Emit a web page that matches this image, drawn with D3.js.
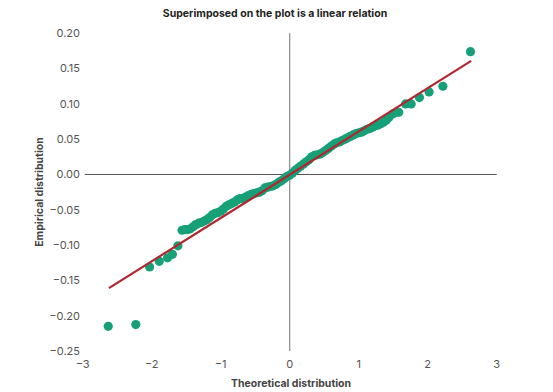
<!DOCTYPE html>
<html><head><meta charset="utf-8">
<script src="https://cdn.jsdelivr.net/npm/d3@7"></script>
<style>body{margin:0;background:#fff}svg{display:block}</style>
</head><body><svg id="c" width="553" height="392"></svg>
<script>
const title = "Superimposed on the plot is a linear relation";
const xTitle = "Theoretical distribution";
const yTitle = "Empirical distribution";
const xTicks = [-3,-2,-1,0,1,2,3];
const yTicks = [0.20,0.15,0.10,0.05,0.00,-0.05,-0.10,-0.15,-0.20,-0.25];
const theoretical = [-2.63,-2.23,-2.03,-1.89,-1.77,-1.70,-1.62,
 -1.56,-1.52,-1.48,-1.44,-1.40,-1.36,-1.32,-1.28,-1.24,-1.20,-1.16,-1.12,-1.08,-1.04,-1.00,-0.96,-0.92,-0.88,-0.84,-0.80,-0.76,-0.72,-0.68,-0.64,-0.60,-0.56,-0.52,-0.48,-0.44,-0.40,-0.36,-0.32,-0.28,-0.24,-0.20,-0.16,-0.12,-0.08,-0.04,0.00,0.04,0.08,0.12,0.16,0.20,0.24,0.28,0.32,0.36,0.40,0.44,0.48,0.52,0.56,0.60,0.64,0.68,0.72,0.76,0.80,0.84,0.88,0.92,0.96,1.00,1.04,1.08,1.12,1.16,1.20,1.24,1.28,1.32,1.36,1.40,1.44,
 1.50,1.58,1.68,1.76,1.88,2.02,2.22,2.62];
const empirical = [-0.215,-0.2125,-0.131,-0.123,-0.118,-0.113,-0.101,
 -0.079,-0.078,-0.078,-0.077,-0.074,-0.071,-0.069,-0.068,-0.066,-0.064,-0.061,-0.057,-0.055,-0.054,-0.052,-0.049,-0.045,-0.043,-0.041,-0.039,-0.036,-0.034,-0.034,-0.032,-0.030,-0.028,-0.027,-0.026,-0.025,-0.023,-0.019,-0.018,-0.017,-0.016,-0.014,-0.011,-0.009,-0.006,-0.003,-0.001,0.002,0.006,0.009,0.012,0.015,0.018,0.021,0.025,0.027,0.028,0.029,0.031,0.034,0.037,0.040,0.043,0.045,0.046,0.048,0.050,0.052,0.054,0.056,0.058,0.059,0.060,0.062,0.064,0.065,0.067,0.069,0.070,0.072,0.074,0.077,0.081,
 0.086,0.088,0.100,0.100,0.109,0.117,0.125,0.174];
const fitX = [-2.62, 2.63];
const fitY = [-0.161, 0.161];

const svg = d3.select("#c");
const x = d3.scaleLinear().domain([-3,3]).range([82.7,496.7]);
const y = d3.scaleLinear().domain([-0.25,0.20]).range([351,33.3]);
const font = "Inter, Roboto, 'DejaVu Sans', sans-serif";

// zero lines
svg.append("line").attr("x1",x(0)).attr("x2",x(0)).attr("y1",y(0.20)).attr("y2",y(-0.25))
  .attr("stroke","#8a8a8a").attr("stroke-width",1.2);
svg.append("line").attr("x1",x(-2.97)).attr("x2",x(3)).attr("y1",y(0)).attr("y2",y(0))
  .attr("stroke","#555").attr("stroke-width",1.2);

// tick labels
svg.append("g").selectAll("text").data(yTicks).join("text")
  .attr("x",80).attr("y",d=>y(d)).attr("dy","0.35em").attr("text-anchor","end")
  .attr("font-family",font).attr("font-size",11).attr("fill","#555")
  .text(d=>d3.format(".2f")(d).replace("-","\u2212"));
svg.append("g").selectAll("text").data(xTicks).join("text")
  .attr("x",d=>x(d)).attr("y",368).attr("text-anchor","middle")
  .attr("font-family",font).attr("font-size",11).attr("fill","#555")
  .text(d=>String(d).replace("-","\u2212"));

// points
svg.append("g").selectAll("circle").data(theoretical).join("circle")
  .attr("cx",d=>x(d)).attr("cy",(d,i)=>y(empirical[i])).attr("r",4.6)
  .attr("fill","#17a078");

// fit line
svg.append("line").attr("x1",x(fitX[0])).attr("y1",y(fitY[0]))
  .attr("x2",x(fitX[1])).attr("y2",y(fitY[1]))
  .attr("stroke","#b0282f").attr("stroke-width",2.2);

// titles
svg.append("text").attr("x",275).attr("y",17).attr("text-anchor","middle")
  .attr("font-family",font).attr("font-size",10.5).attr("font-weight","bold").attr("fill","#222")
  .text(title);
svg.append("text").attr("x",291).attr("y",387).attr("text-anchor","middle")
  .attr("font-family",font).attr("font-size",10.5).attr("font-weight","bold").attr("fill","#444")
  .text(xTitle);
svg.append("text").attr("transform","translate(43,192) rotate(-90)").attr("text-anchor","middle")
  .attr("font-family",font).attr("font-size",10.5).attr("font-weight","bold").attr("fill","#444")
  .text(yTitle);
</script></body></html>
